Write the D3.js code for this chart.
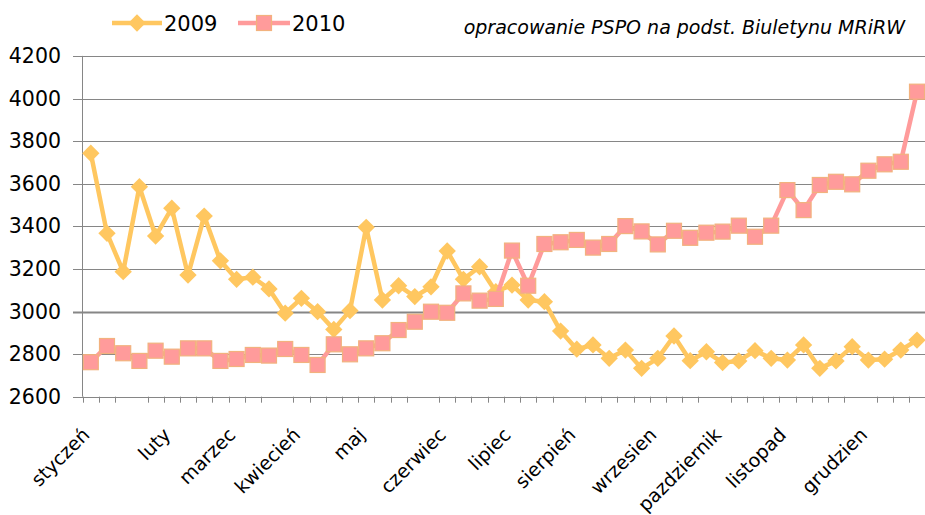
<!DOCTYPE html>
<meta charset="utf-8">
<head>
<script src="https://cdn.jsdelivr.net/npm/d3@7"></script>
<style>
	body { margin: 0; background: #fff; }
	text { font-family: "DejaVu Sans", sans-serif; fill: #000; }
</style>
</head>
<body>
<div id="chart"></div>
<script>

// weekly readings, 52 weeks
const values2009 = [3743, 3367, 3187, 3586, 3354, 3485, 3171, 3448, 3238, 3151,
	3161, 3106, 2992, 3062, 2999, 2916, 3004, 3395, 3054, 3121,
	3070, 3116, 3284, 3151, 3210, 3093, 3124, 3054, 3046, 2908,
	2823, 2843, 2780, 2819, 2733, 2780, 2885, 2769, 2811, 2760,
	2768, 2816, 2780, 2772, 2843, 2733, 2768, 2835, 2772, 2776,
	2819, 2866]
const values2010 = [2762, 2838, 2804, 2768, 2816, 2788, 2827, 2827, 2768, 2777,
	2796, 2793, 2824, 2796, 2749, 2846, 2799, 2827, 2851, 2913,
	2952, 2999, 2994, 3085, 3051, 3059, 3286, 3121, 3317, 3325,
	3336, 3300, 3317, 3401, 3376, 3315, 3379, 3346, 3370, 3375,
	3403, 3351, 3403, 3570, 3476, 3594, 3609, 3597, 3661, 3691,
	3703, 4032]

// month names shown under particular weeks
const monthLabels = [
	[0, 'styczeń'], [5, 'luty'], [9, 'marzec'], [13, 'kwiecień'],
	[17, 'maj'], [22, 'czerwiec'], [26, 'lipiec'], [30, 'sierpień'],
	[35, 'wrzesien'], [39, 'pazdziernik'], [43, 'listopad'], [48, 'grudzien']
]
const yTicks = [2600, 2800, 3000, 3200, 3400, 3600, 3800, 4000, 4200]
const seriesNames = ['2009', '2010']

const W = 925, H = 515
const col2009 = '#FFC760', col2010 = '#FF9B9B', edge2010 = '#F2B27E', gridCol = '#868686'

const svg = d3.select('#chart').append('svg')
	.attr('width', W)
	.attr('height', H)

const weeks = d3.range(values2009.length)

const x = d3.scaleBand()
	.domain(weeks)
	.range([82.7, 925.1])

const y = d3.scaleLinear()
	.domain([2600, 4200])
	.range([396.7, 55.9])

////////////////////////////////////
// GRID + AXES
////////////////////////////////////

svg.append('g')
	.selectAll('line')
	.data(yTicks)
	.enter().append('line')
	.attr('x1', 73)
	.attr('x2', W)
	.attr('y1', d => Math.round(y(d)) + 0.5)
	.attr('y2', d => Math.round(y(d)) + 0.5)
	.attr('stroke', gridCol)
	.attr('stroke-width', d => d === 3000 ? 2 : 1)

svg.append('line')
	.attr('x1', 82.5).attr('x2', 82.5)
	.attr('y1', y(4200)).attr('y2', y(2600))
	.attr('stroke', gridCol)

svg.append('g')
	.selectAll('text')
	.data(yTicks)
	.enter().append('text')
	.attr('x', 61)
	.attr('y', d => y(d) + 7)
	.attr('text-anchor', 'end')
	.style('font-size', '20.5px')
	.text(d => d)

// tick marks between weeks (excel leaves every 9th one out)
const bounds = d3.range(values2009.length + 1).filter(k => k % 9 !== 3)
svg.append('g')
	.selectAll('line')
	.data(bounds)
	.enter().append('line')
	.attr('x1', k => Math.round(k < weeks.length ? x(k) : x(k - 1) + x.bandwidth()) + 0.5)
	.attr('x2', k => Math.round(k < weeks.length ? x(k) : x(k - 1) + x.bandwidth()) + 0.5)
	.attr('y1', y(2600))
	.attr('y2', y(2600) + 6)
	.attr('stroke', gridCol)

svg.append('g')
	.selectAll('text')
	.data(monthLabels)
	.enter().append('text')
	.attr('transform', d => `translate(${x(d[0]) + x.bandwidth() / 2 + 0},${436}) rotate(-45)`)
	.attr('text-anchor', 'end')
	.style('font-size', '19px')
	.text(d => d[1])

////////////////////////////////////
// SERIES
////////////////////////////////////

const line = d3.line()
	.x((d, i) => x(i) + x.bandwidth() / 2)
	.y(d => y(d))

svg.append('path')
	.datum(values2009)
	.attr('d', line)
	.attr('fill', 'none')
	.attr('stroke', col2009)
	.attr('stroke-width', 4.5)
	.attr('stroke-linejoin', 'round')

const diamond = d3.symbol().type(d3.symbolSquare).size(150)

svg.append('g')
	.selectAll('path')
	.data(values2009)
	.enter().append('path')
	.attr('d', diamond)
	.attr('transform', (d, i) => `translate(${x(i) + x.bandwidth() / 2},${y(d)}) rotate(45)`)
	.attr('fill', col2009)

svg.append('path')
	.datum(values2010)
	.attr('d', line)
	.attr('fill', 'none')
	.attr('stroke', col2010)
	.attr('stroke-width', 4.5)
	.attr('stroke-linejoin', 'round')

svg.append('g')
	.selectAll('rect')
	.data(values2010)
	.enter().append('rect')
	.attr('x', (d, i) => x(i) + x.bandwidth() / 2 - 7.5)
	.attr('y', d => y(d) - 7.5)
	.attr('width', 15)
	.attr('height', 15)
	.attr('fill', col2010)
	.attr('stroke', edge2010)
	.attr('stroke-width', 1.2)

////////////////////////////////////
// LEGEND + NOTE
////////////////////////////////////

const legend = svg.append('g')

legend.append('line')
	.attr('x1', 112).attr('x2', 162).attr('y1', 23).attr('y2', 23)
	.attr('stroke', col2009).attr('stroke-width', 4.5)
legend.append('path')
	.attr('d', diamond)
	.attr('transform', 'translate(137,23) rotate(45)')
	.attr('fill', col2009)
legend.append('text')
	.attr('x', 164).attr('y', 31)
	.style('font-size', '21px')
	.text(seriesNames[0])

legend.append('line')
	.attr('x1', 238).attr('x2', 290).attr('y1', 23).attr('y2', 23)
	.attr('stroke', col2010).attr('stroke-width', 4.5)
legend.append('rect')
	.attr('x', 256.5).attr('y', 15.5).attr('width', 15).attr('height', 15)
	.attr('fill', col2010).attr('stroke', edge2010).attr('stroke-width', 1.2)
legend.append('text')
	.attr('x', 292).attr('y', 31)
	.style('font-size', '21px')
	.text(seriesNames[1])

svg.append('text')
	.attr('x', 905).attr('y', 34)
	.attr('text-anchor', 'end')
	.style('font-size', '19px')
	.style('font-style', 'italic')
	.text('opracowanie PSPO na podst. Biuletynu MRiRW')

</script>
</body>
